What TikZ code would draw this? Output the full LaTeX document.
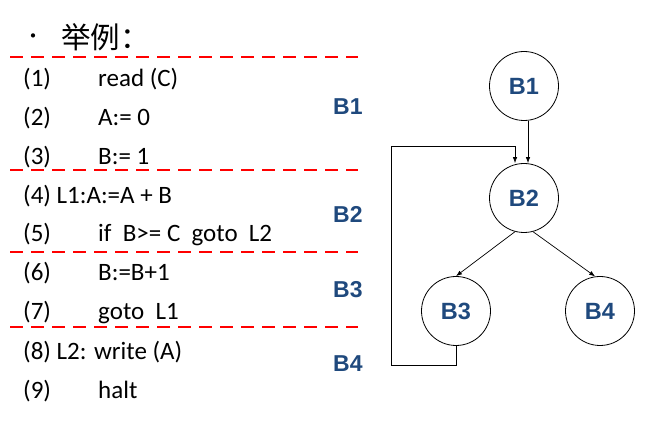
\documentclass[tikz,border=0pt]{standalone}
\usepackage{fontspec}
\setmainfont{Carlito}
\newfontfamily\cjkfont{Noto Sans CJK SC}
\newfontfamily\blkfont{Liberation Sans}
\usetikzlibrary{calc, positioning}
\usetikzlibrary{arrows.meta}
\definecolor{blkblue}{RGB}{31,73,125}

\begin{document}
\begin{tikzpicture}[x=1pt, y=-1pt,
  code/.style={anchor=base west, inner sep=0pt, font=\fontsize{25}{29}\selectfont},
  blk/.style={anchor=base west, inner sep=0pt, text=blkblue, font=\blkfont\bfseries\fontsize{23}{27}\selectfont},
  cut/.style={red, line width=2.8pt, dash pattern=on 13pt off 8pt},
  bb/.style={circle, draw, line width=0.8pt, minimum size=69pt, inner sep=0pt, text=blkblue, font=\blkfont\bfseries\fontsize{23.5}{27}\selectfont},
  flow/.style={-{Latex[length=6pt, width=4.5pt]}, line width=0.7pt}]
\useasboundingbox (0,0) rectangle (654,430);

% title
\node[anchor=base west, inner sep=0pt, font=\cjkfont\fontsize{20}{24}\selectfont] (dot) at (23,44) {·};
\node[anchor=base west, inner sep=0pt, font=\cjkfont\fontsize{29.5}{32}\selectfont] (title) at (61,49) {举例：};

% cuts between the blocks
\coordinate (L0) at (10,57);
\coordinate (L1) at (10,170);
\coordinate (L2) at (10,252);
\coordinate (L3) at (10,327);
\draw[cut] (L0) -- ++(348,0);
\draw[cut] (L1) -- ++(348,0);
\draw[cut] (L2) -- ++(348,0);
\draw[cut] (L3) -- ++(348,0);

% three-address code
\node[code] (n1) at (23,87) {(1)};
\node[code] (s1) at (98,87) {read (C)};
\node[code] (n2) at (23,126) {(2)};
\node[code] (s2) at (98,126) {A:= 0};
\node[code] (n3) at (23,165) {(3)};
\node[code] (s3) at (98,165) {B:= 1};
\node[code] (n4) at (23,204) {(4) L1:A:=A + B};
\node[code] (n5) at (23,242) {(5)};
\node[code] (s5) at (98,242) {if\ \ B>= C\ \ goto\ \ L2};
\node[code] (n6) at (23,281) {(6)};
\node[code] (s6) at (98,281) {B:=B+1};
\node[code] (n7) at (23,320) {(7)};
\node[code] (s7) at (98,320) {goto\ \ L1};
\node[code] (n8) at (23,360) {(8) L2: write (A)};
\node[code] (n9) at (23,399) {(9)};
\node[code] (s9) at (98,399) {halt};

% block names
\node[blk] (k1) at (333,115) {B1};
\node[blk] (k2) at (333,223) {B2};
\node[blk] (k3) at (333,298) {B3};
\node[blk] (k4) at (333,372) {B4};

% flow graph
\node[bb] (B1) at (524,86) {B1};
\node[bb] (B2) at (524,198) {B2};
\node[bb] (B3) at (456,311) {B3};
\node[bb] (B4) at (600,311) {B4};
\coordinate (back) at (391,146);

\draw[flow] ([xshift=4pt]B1.south) -- ([xshift=4pt]B2.north);
\draw[flow] (B2.255) -- (B3.north);
\draw[flow] (B2.285) -- (B4.98);
\draw[flow] (B3.south) -- ++(0,19) -| (back) -| ([xshift=-9pt]B2.north);
\end{tikzpicture}
\end{document}
